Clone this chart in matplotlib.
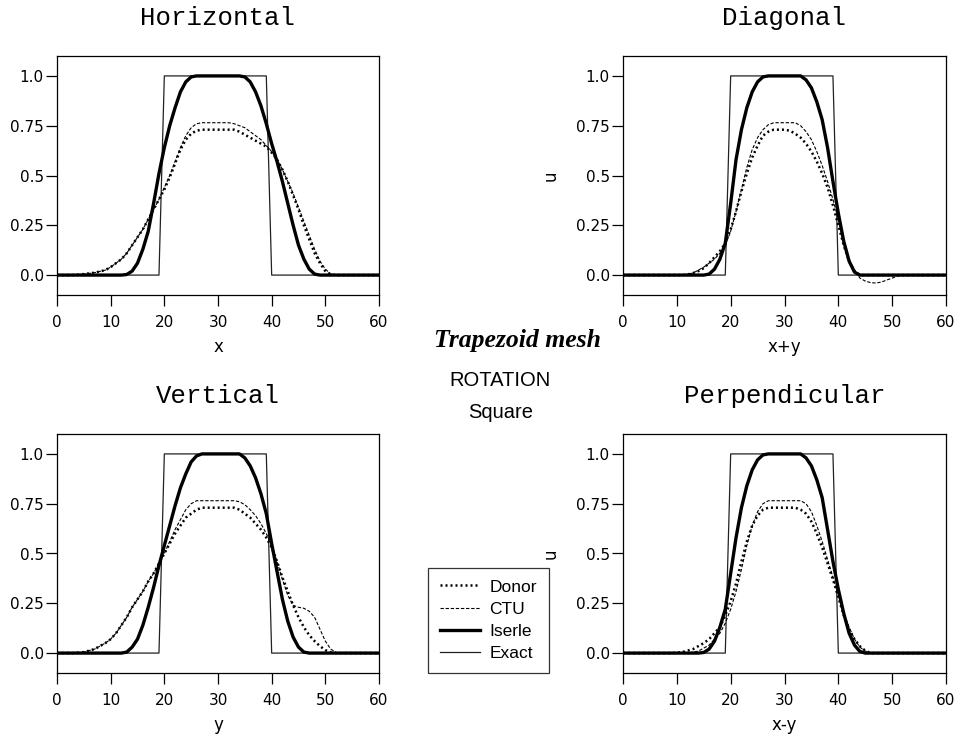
import matplotlib
matplotlib.use("Agg")
import matplotlib.pyplot as plt
from matplotlib.lines import Line2D

plt.rcParams['font.family'] = ['DejaVu Sans']

# exact solution (same in every panel)
exact_x = [0, 19, 20, 39, 40, 60]
exact_u = [0, 0, 1, 1, 0, 0]

# --- Horizontal ---
hor_iserle_x = [0, 12, 13, 14, 15, 16, 17, 18, 19, 20, 21, 22, 23, 24, 25, 26,
                34, 35, 36, 37, 38, 39, 40, 41, 42, 43, 44, 45, 46, 47, 48, 49, 60]
hor_iserle = [0, 0, 0.003, 0.02, 0.06, 0.13, 0.22, 0.36, 0.51, 0.64, 0.75, 0.84, 0.92, 0.97, 0.995, 1.0,
              1.0, 0.995, 0.97, 0.92, 0.85, 0.76, 0.66, 0.57, 0.47, 0.36, 0.25, 0.15, 0.08, 0.03, 0.005, 0, 0]
hor_donor_x = [0, 3, 5, 7, 9, 10, 11, 12, 13, 14, 15, 16, 17, 18, 19, 20, 21, 22, 23, 24, 25, 26, 27,
               33, 34, 35, 36, 37, 38, 39, 40, 41, 42, 43, 44, 45, 46, 47, 48, 49, 50, 51, 52, 60]
hor_donor = [0, 0, 0.005, 0.012, 0.025, 0.04, 0.06, 0.08, 0.11, 0.15, 0.19, 0.23, 0.28, 0.33, 0.38, 0.43,
             0.49, 0.56, 0.63, 0.68, 0.71, 0.725, 0.73,
             0.73, 0.72, 0.705, 0.69, 0.675, 0.66, 0.645, 0.615, 0.58, 0.53, 0.47, 0.40, 0.33, 0.25,
             0.18, 0.11, 0.06, 0.02, 0.003, 0, 0]
hor_ctu_x = [0, 3, 5, 7, 9, 10, 11, 12, 13, 14, 15, 16, 17, 18, 19, 20, 21, 22, 23, 24, 25, 26, 27,
             32, 33, 34, 35, 36, 37, 38, 39, 40, 41, 42, 43, 44, 45, 46, 47, 48, 49, 50, 51, 52, 60]
hor_ctu = [0, 0, 0.005, 0.012, 0.025, 0.04, 0.06, 0.08, 0.11, 0.15, 0.19, 0.23, 0.28, 0.33, 0.38, 0.44,
           0.50, 0.57, 0.64, 0.70, 0.74, 0.76, 0.765,
           0.765, 0.76, 0.75, 0.74, 0.72, 0.70, 0.68, 0.65, 0.62, 0.58, 0.53, 0.47, 0.41, 0.34, 0.27,
           0.20, 0.13, 0.07, 0.03, 0.005, 0, 0]

# --- Diagonal ---
dia_iserle_x = [0, 15, 16, 17, 18, 19, 20, 21, 22, 23, 24, 25, 26, 27,
                33, 34, 35, 36, 37, 38, 39, 40, 41, 42, 43, 44, 60]
dia_iserle = [0, 0, 0.005, 0.03, 0.08, 0.16, 0.36, 0.58, 0.73, 0.84, 0.92, 0.97, 0.995, 1.0,
              1.0, 0.98, 0.94, 0.87, 0.78, 0.64, 0.47, 0.31, 0.17, 0.07, 0.015, 0, 0]
dia_donor_x = [0, 11, 12, 13, 14, 15, 16, 17, 18, 19, 20, 21, 22, 23, 24, 25, 26, 27, 28,
               30, 31, 32, 33, 34, 35, 36, 37, 38, 39, 40, 41, 42, 43, 44, 60]
dia_donor = [0, 0, 0.003, 0.01, 0.02, 0.035, 0.06, 0.09, 0.12, 0.16, 0.23, 0.32, 0.42, 0.51, 0.59,
             0.65, 0.70, 0.72, 0.73,
             0.73, 0.725, 0.71, 0.69, 0.66, 0.62, 0.57, 0.51, 0.44, 0.35, 0.25, 0.15, 0.07, 0.02, 0, 0]
dia_ctu_x = [0, 11, 13, 15, 17, 18, 19, 20, 21, 22, 23, 24, 25, 26, 27, 28,
             32, 33, 34, 35, 36, 37, 38, 39, 40, 41, 42, 43, 44, 45, 46, 47, 48, 49, 50, 51, 52, 60]
dia_ctu = [0, 0, 0.01, 0.04, 0.08, 0.11, 0.15, 0.22, 0.32, 0.43, 0.54, 0.63, 0.69, 0.73, 0.755, 0.765,
           0.765, 0.75, 0.72, 0.68, 0.62, 0.55, 0.47, 0.38, 0.28, 0.17, 0.08, 0.02, -0.015,
           -0.03, -0.038, -0.04, -0.035, -0.025, -0.015, -0.005, 0, 0]

# --- Vertical ---
ver_iserle_x = [0, 12, 13, 14, 15, 16, 17, 18, 19, 20, 21, 22, 23, 24, 25, 26, 27,
                34, 35, 36, 37, 38, 39, 40, 41, 42, 43, 44, 45, 46, 47, 60]
ver_iserle = [0, 0, 0.005, 0.03, 0.07, 0.14, 0.23, 0.33, 0.44, 0.54, 0.64, 0.74, 0.83, 0.90, 0.96, 0.99, 1.0,
              1.0, 0.98, 0.94, 0.88, 0.80, 0.70, 0.55, 0.41, 0.27, 0.16, 0.08, 0.03, 0.005, 0, 0]
ver_donor_x = [0, 3, 5, 7, 9, 10, 11, 12, 13, 14, 15, 16, 17, 18, 19, 20, 21, 22, 23, 24, 25, 26, 27,
               33, 34, 35, 36, 37, 38, 39, 40, 41, 42, 43, 44, 45, 46, 47, 48, 49, 50, 51, 52, 60]
ver_donor = [0, 0, 0.005, 0.02, 0.05, 0.07, 0.10, 0.14, 0.18, 0.23, 0.27, 0.31, 0.36, 0.40, 0.45, 0.50,
             0.55, 0.60, 0.64, 0.68, 0.70, 0.72, 0.73,
             0.73, 0.72, 0.70, 0.68, 0.65, 0.62, 0.58, 0.53, 0.46, 0.38, 0.31, 0.24, 0.18, 0.13,
             0.09, 0.06, 0.035, 0.015, 0.004, 0, 0]
ver_ctu_x = [0, 3, 5, 7, 9, 10, 11, 12, 13, 14, 15, 16, 17, 18, 19, 20, 21, 22, 23, 24, 25, 26,
             33, 34, 35, 36, 37, 38, 39, 40, 41, 42, 43, 44, 45, 46, 47, 48, 49, 50, 51, 52, 53, 60]
ver_ctu = [0, 0, 0.005, 0.02, 0.05, 0.07, 0.10, 0.14, 0.18, 0.23, 0.27, 0.31, 0.36, 0.40, 0.45, 0.50,
           0.56, 0.62, 0.67, 0.72, 0.75, 0.765,
           0.765, 0.76, 0.745, 0.72, 0.69, 0.65, 0.60, 0.54, 0.46, 0.37, 0.29, 0.24, 0.23, 0.225,
           0.21, 0.18, 0.12, 0.06, 0.02, 0.003, 0, 0]

# --- Perpendicular ---
per_iserle_x = [0, 14, 15, 16, 17, 18, 19, 20, 21, 22, 23, 24, 25, 26, 27,
                33, 34, 35, 36, 37, 38, 39, 40, 41, 42, 43, 44, 45, 60]
per_iserle = [0, 0, 0.003, 0.02, 0.06, 0.13, 0.22, 0.40, 0.58, 0.73, 0.84, 0.92, 0.97, 0.995, 1.0,
              1.0, 0.98, 0.94, 0.87, 0.78, 0.62, 0.46, 0.32, 0.20, 0.10, 0.04, 0.008, 0, 0]
per_donor_x = [0, 9, 11, 13, 15, 16, 17, 18, 19, 20, 21, 22, 23, 24, 25, 26, 27,
               32, 33, 34, 35, 36, 37, 38, 39, 40, 41, 42, 43, 44, 45, 46, 60]
per_donor = [0, 0, 0.005, 0.02, 0.05, 0.07, 0.10, 0.13, 0.19, 0.26, 0.35, 0.46, 0.56, 0.64, 0.69, 0.72, 0.73,
             0.73, 0.72, 0.70, 0.66, 0.60, 0.53, 0.45, 0.37, 0.28, 0.19, 0.12, 0.07, 0.035, 0.012, 0, 0]
per_ctu_x = [0, 12, 14, 16, 18, 19, 20, 21, 22, 23, 24, 25, 26, 27,
             33, 34, 35, 36, 37, 38, 39, 40, 41, 42, 43, 44, 45, 46, 60]
per_ctu = [0, 0, 0.01, 0.04, 0.10, 0.15, 0.22, 0.31, 0.42, 0.54, 0.64, 0.71, 0.75, 0.765,
           0.765, 0.75, 0.71, 0.64, 0.56, 0.47, 0.38, 0.29, 0.20, 0.13, 0.07, 0.03, 0.01, 0, 0]

panels = [
    ("Horizontal", "x", False, hor_donor_x, hor_donor, hor_ctu_x, hor_ctu, hor_iserle_x, hor_iserle),
    ("Diagonal", "x+y", True, dia_donor_x, dia_donor, dia_ctu_x, dia_ctu, dia_iserle_x, dia_iserle),
    ("Vertical", "y", False, ver_donor_x, ver_donor, ver_ctu_x, ver_ctu, ver_iserle_x, ver_iserle),
    ("Perpendicular", "x-y", True, per_donor_x, per_donor, per_ctu_x, per_ctu, per_iserle_x, per_iserle),
]

W, H = 968, 737
# axes boxes in pixels: left, top, right, bottom
boxes = [(57, 56, 379, 295), (623, 56, 946, 295), (57, 434, 379, 673), (623, 434, 946, 673)]

donor_style = dict(color="black", lw=1.8, ls=(0, (0.8, 1.2)))
ctu_style = dict(color="black", lw=0.8, ls=(0, (3, 1.6)))
iserle_style = dict(color="black", lw=2.4, ls="-")
exact_style = dict(color="#222222", lw=0.9, ls="-")

fig = plt.figure(figsize=(W / 100, H / 100), dpi=100)

for (title, xlab, ulab, dx, du, cx, cu, ix, iu), (l, t, r, b) in zip(panels, boxes):
    ax = fig.add_axes([l / W, 1 - b / H, (r - l) / W, (b - t) / H])
    ax.plot(exact_x, exact_u, **exact_style)
    ax.plot(dx, du, **donor_style)
    ax.plot(cx, cu, **ctu_style)
    ax.plot(ix, iu, **iserle_style)
    ax.set_xlim(0, 60)
    ax.set_ylim(-0.1, 1.1)
    ax.set_xticks([0, 10, 20, 30, 40, 50, 60])
    ax.set_yticks([0, 0.25, 0.5, 0.75, 1.0])
    ax.set_yticklabels(["0.0", "0.25", "0.5", "0.75", "1.0"])
    ax.tick_params(axis="both", direction="out", length=8, width=0.9, labelsize=11)
    ax.tick_params(axis="x", pad=6.5)
    ax.tick_params(axis="y", pad=1.5)
    for s in ax.spines.values():
        s.set_linewidth(0.9)
    ax.set_title(title, family="Liberation Mono", fontsize=18.5, pad=22)
    ax.set_xlabel(xlab, fontsize=12)
    ax.xaxis.set_label_coords(0.5, -0.18)
    if ulab:
        ax.set_ylabel("u", fontsize=12)
        ax.yaxis.set_label_coords(-0.195, 0.5)

fig.text(518 / W, 1 - 341 / H, "Trapezoid mesh", family="Liberation Serif", style="italic",
         weight="bold", fontsize=18.5, ha="center", va="center")
fig.text(500 / W, 1 - 380 / H, "ROTATION", family="Liberation Sans", fontsize=14.5,
         ha="center", va="center")
fig.text(501 / W, 1 - 413 / H, "Square", family="Liberation Sans", fontsize=14.5,
         ha="center", va="center")

handles = [Line2D([], [], **donor_style), Line2D([], [], **ctu_style),
           Line2D([], [], **iserle_style), Line2D([], [], **exact_style)]
leg = fig.legend(handles, ["Donor", "CTU", "Iserle", "Exact"], loc="lower left",
                 bbox_to_anchor=(428 / W, 1 - 673 / H), prop={"family": "Liberation Sans", "size": 12.5},
                 frameon=True, fancybox=False, edgecolor="black", handlelength=2.3,
                 handletextpad=0.57, labelspacing=0.41, borderpad=0.67, borderaxespad=0)
leg.get_frame().set_linewidth(0.9)

fig.savefig("out.png", dpi=100)
